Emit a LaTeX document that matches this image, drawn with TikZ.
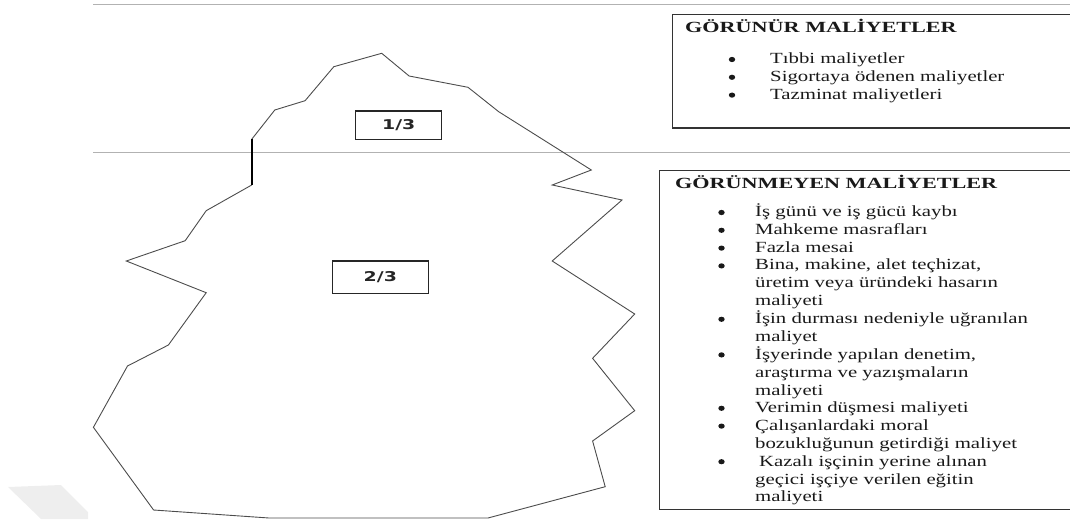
\documentclass[tikz,border=0pt]{standalone}
\usepackage{fontspec}
\setmainfont{Liberation Serif}
\newfontfamily\serifw[FakeStretch=1.34]{Liberation Serif}
\newfontfamily\titlew[FakeStretch=1.43]{Liberation Serif}
\newfontfamily\sansw[FakeStretch=1.4]{DejaVu Sans}
\tikzset{
  rule/.style={draw=gray!60, line width=1.4pt},
  berg/.style={draw=black!70, line width=0.9pt, line join=miter},
  costbox/.style={draw=black!80, line width=1.3pt, anchor=north west, inner sep=0pt},
  fracbox/.style={draw=black!85, line width=1.2pt, inner sep=0pt, text=black!85,
     font=\sansw\bfseries\fontsize{13.5}{16}\selectfont},
  title/.style={anchor=base west, inner sep=0pt, text=black!90,
     font=\titlew\bfseries\fontsize{15.5}{17.8}\selectfont},
  items/.style={anchor=base west, inner sep=0pt, text=black!90,
     font=\serifw\fontsize{15.5}{17.8}\selectfont},
  bul/.style={fill=black!90},
}
\begin{document}
\begin{tikzpicture}[x=1pt,y=-1pt]
\useasboundingbox (0,0) rectangle (1070,519);
\clip (0,0) rectangle (1070,519);
% watermark
\fill[gray!13] (8,487) -- (61,485) -- (88,512) -- (88,519) -- (41,519) -- cycle;
% horizontal rules
\draw[rule] (93,4.5) -- (1070,4.5);
\draw[rule] (93,152.3) -- (1070,152.3);
% iceberg outline
\draw[berg] (251.7,185) -- (206.2,210.7) -- (185.2,240.7) -- (126.3,261)
  -- (206.2,292.7) -- (168.4,345) -- (127.5,366) -- (93.4,427.3)
  -- (153.6,510) -- (269,518) -- (488,518) -- (605.2,486.7)
  -- (592.6,441) -- (634.7,410.7) -- (592.6,358.3) -- (634.7,314)
  -- (552.2,261) -- (622,200) -- (552.2,185) -- (591.3,170)
  -- (498.7,111.7) -- (468,87.3) -- (409.1,76) -- (381.7,53.3)
  -- (333.8,66.7) -- (305.1,100.7) -- (274.8,110) -- (251.7,139.3);
\draw[black, line width=2pt] (251.7,139.3) -- (251.7,185);
% fraction labels
\node[fracbox, minimum width=86pt, minimum height=28.3pt] (third) at (398.7,125.2) {1/3};
\node[fracbox, minimum width=96pt, minimum height=32.3pt] (twothirds) at (380.3,277.2) {2/3};
% visible costs box
\node[costbox, minimum width=420pt, minimum height=113.3pt] (visbox) at (671.7,14) {};
\node[title] (vistitle) at (685,32.3) {GÖRÜNÜR MALİYETLER};
\node[items] (vislist) at (770,63.5) {\begin{tabular}[t]{@{}l@{}}
Tıbbi maliyetler\\
Sigortaya ödenen maliyetler\\
Tazminat maliyetleri
\end{tabular}};
\foreach \k in {0,1,2}
  \fill[bul] (732,{63.5+17.8*\k-4}) ellipse [x radius=3.2pt, y radius=2.6pt];
% hidden costs box
\node[costbox, minimum width=430pt, minimum height=338.5pt] (hidbox) at (659,170) {};
\node[title] (hidtitle) at (675,188.5) {GÖRÜNMEYEN MALİYETLER};
\node[items] (hidlist) at (755,216.5) {\begin{tabular}[t]{@{}l@{}}
İş günü ve iş gücü kaybı\\
Mahkeme masrafları\\
Fazla mesai\\
Bina, makine, alet teçhizat,\\
üretim veya üründeki hasarın\\
maliyeti\\
İşin durması nedeniyle uğranılan\\
maliyet\\
İşyerinde yapılan denetim,\\
araştırma ve yazışmaların\\
maliyeti\\
Verimin düşmesi maliyeti\\
Çalışanlardaki moral\\
bozukluğunun getirdiği maliyet\\
\hspace{4pt}Kazalı işçinin yerine alınan\\
geçici işçiye verilen eğitin\\
maliyeti
\end{tabular}};
\foreach \k in {0,1,2,3,6,8,11,12,14}
  \fill[bul] (721.5,{216.5+17.8*\k-4}) ellipse [x radius=3.2pt, y radius=2.6pt];
\end{tikzpicture}
\end{document}
